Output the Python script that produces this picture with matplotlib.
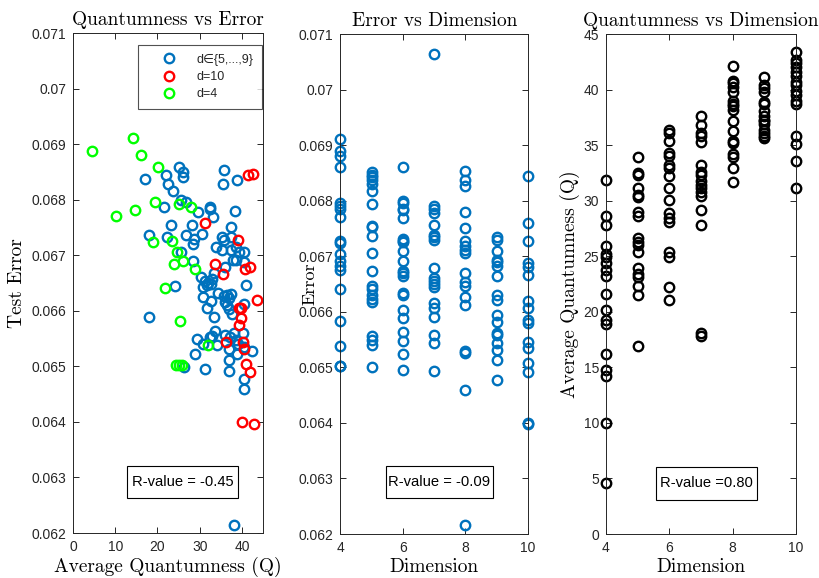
import matplotlib
matplotlib.use("Agg")
import matplotlib.pyplot as plt
from matplotlib.lines import Line2D
from matplotlib.patches import Rectangle

plt.rcParams['font.family'] = ['Liberation Sans', 'DejaVu Sans']

# ---------------- data ----------------
# Left panel: (Average Quantumness, Test Error) pairs
blue_q = [25.1, 26.0, 26.0, 22.0, 17.0, 22.6, 23.7, 35.7, 35.5, 38.9,
          25.6, 26.7, 21.5, 29.6, 32.4, 32.5, 33.2, 38.4, 23.3, 28.1,
          30.6, 37.4, 18.1, 22.3, 26.8, 28.6, 28.5, 35.3, 35.8, 37.4,
          33.8, 35.4, 37.4, 38.7, 39.2, 40.4, 25.5, 28.4, 38.0, 38.7,
          36.0, 40.6, 33.4, 30.2, 31.2, 31.9, 32.9, 30.7, 31.7, 32.6,
          24.1, 40.9, 34.3, 35.7, 36.4, 36.9, 36.0, 36.4, 36.9, 37.4,
          37.6, 30.8, 32.6, 31.7, 40.4, 33.3, 18.1, 33.6, 33.0, 32.4,
          29.3, 30.9, 34.2, 36.0, 37.2, 38.2, 38.7, 40.2, 39.0, 40.6,
          37.0, 37.0, 38.8, 42.3, 29.0, 26.4, 31.3, 37.0, 40.6, 40.6, 38.2]
blue_err = [0.06859, 0.06849, 0.06841, 0.06844, 0.06838, 0.06829, 0.06816, 0.06853, 0.06828, 0.06835,
            0.06799, 0.06796, 0.06786, 0.06778, 0.06787, 0.06784, 0.06768, 0.06779, 0.06754, 0.06754,
            0.06739, 0.06751, 0.06736, 0.06732, 0.06736, 0.06730, 0.06721, 0.06732, 0.06727, 0.06732,
            0.06715, 0.06709, 0.06709, 0.06714, 0.06705, 0.06705, 0.06705, 0.06690, 0.06691, 0.06691,
            0.06678, 0.06687, 0.06668, 0.06661, 0.06654, 0.06650, 0.06657, 0.06643, 0.06646, 0.06648,
            0.06645, 0.06646, 0.06632, 0.06627, 0.06628, 0.06623, 0.06616, 0.06610, 0.06603, 0.06630,
            0.06594, 0.06624, 0.06618, 0.06605, 0.06612, 0.06588, 0.06589, 0.06564, 0.06555, 0.06553,
            0.06549, 0.06540, 0.06538, 0.06556, 0.06552, 0.06560, 0.06547, 0.06560, 0.06540, 0.06535,
            0.06532, 0.06511, 0.06523, 0.06528, 0.06522, 0.06499, 0.06496, 0.06492, 0.06477, 0.06459, 0.06215]

red_q = [41.4, 42.6, 31.3, 39.0, 33.7, 35.5, 40.7, 42.0, 43.6, 39.4,
         39.9, 39.8, 39.4, 36.2, 40.2, 40.6, 41.0, 42.0, 40.0, 42.8]
red_err = [0.06844, 0.06846, 0.06758, 0.06727, 0.06684, 0.06666, 0.06675, 0.06678, 0.06619, 0.06605,
           0.06605, 0.06587, 0.06574, 0.06543, 0.06544, 0.06531, 0.06504, 0.06490, 0.06399, 0.06396]

green_q = [4.5, 14.3, 16.2, 20.1, 19.4, 14.8, 10.1, 25.1, 28.0, 18.9,
           23.5, 24.7, 23.9, 26.1, 28.8, 21.9, 25.3, 32.0, 24.3, 25.0, 25.7]
green_err = [0.06888, 0.06911, 0.06881, 0.06859, 0.06796, 0.06782, 0.06770, 0.06793, 0.06787, 0.06723,
             0.06726, 0.06705, 0.06684, 0.06690, 0.06676, 0.06641, 0.06581, 0.06538, 0.06502, 0.06502, 0.06502]

# Middle panel: error per dimension
dimensions = [4, 5, 6, 7, 8, 9, 10]
err_d4 = [0.06911, 0.06890, 0.06881, 0.06860, 0.06796, 0.06791, 0.06785, 0.06770, 0.06727, 0.06724,
          0.06704, 0.06691, 0.06683, 0.06676, 0.06641, 0.06583, 0.06538, 0.06502, 0.06502]
err_d5 = [0.06851, 0.06847, 0.06842, 0.06838, 0.06830, 0.06817, 0.06794, 0.06755, 0.06752, 0.06737,
          0.06706, 0.06674, 0.06646, 0.06641, 0.06630, 0.06623, 0.06618, 0.06556, 0.06550, 0.06541, 0.06501]
err_d6 = [0.06860, 0.06799, 0.06796, 0.06785, 0.06784, 0.06769, 0.06731, 0.06728, 0.06725, 0.06710,
          0.06691, 0.06673, 0.06670, 0.06664, 0.06634, 0.06630, 0.06603, 0.06589, 0.06564, 0.06547,
          0.06524, 0.06496]
err_d7 = [0.07064, 0.06790, 0.06785, 0.06778, 0.06757, 0.06739, 0.06734, 0.06730, 0.06679, 0.06661,
          0.06656, 0.06650, 0.06644, 0.06616, 0.06606, 0.06591, 0.06558, 0.06543, 0.06494]
err_d8 = [0.06854, 0.06838, 0.06827, 0.06779, 0.06751, 0.06727, 0.06718, 0.06712, 0.06706, 0.06670,
          0.06653, 0.06647, 0.06626, 0.06612, 0.06530, 0.06525, 0.06460, 0.06216]
err_d9 = [0.06734, 0.06730, 0.06710, 0.06694, 0.06689, 0.06683, 0.06664, 0.06631, 0.06621, 0.06594,
          0.06582, 0.06561, 0.06558, 0.06543, 0.06532, 0.06513, 0.06478]
err_d10 = [0.06845, 0.06760, 0.06727, 0.06688, 0.06680, 0.06667, 0.06620, 0.06606, 0.06586, 0.06580,
           0.06546, 0.06534, 0.06507, 0.06492, 0.06400, 0.06398]
err_by_dim = [err_d4, err_d5, err_d6, err_d7, err_d8, err_d9, err_d10]

# Right panel: average quantumness per dimension
q_d4 = [31.9, 28.6, 27.8, 25.9, 25.2, 24.9, 24.4, 23.8, 23.2, 21.6, 20.2, 19.3, 18.9,
        16.2, 14.8, 14.2, 10.0, 4.6]
q_d5 = [33.9, 32.5, 32.3, 31.1, 30.5, 30.3, 29.0, 28.6, 26.6, 26.3, 26.0, 25.4, 23.9,
        23.4, 23.1, 22.3, 21.5, 16.9]
q_d6 = [36.4, 36.1, 35.4, 34.3, 34.0, 33.2, 32.9, 32.2, 31.1, 30.1, 28.9, 28.4, 28.1,
        25.4, 24.9, 22.2, 21.1]
q_d7 = [37.6, 36.8, 36.1, 35.8, 35.3, 33.2, 32.6, 32.3, 31.8, 31.4, 31.1, 30.8, 30.4,
        29.2, 27.8, 18.1, 17.8]
q_d8 = [42.1, 40.8, 40.6, 40.2, 39.8, 39.0, 38.7, 38.5, 38.2, 37.2, 36.3, 35.4, 35.2,
        34.2, 33.9, 32.9, 31.7]
q_d9 = [41.1, 40.4, 40.1, 39.8, 38.9, 38.7, 38.1, 37.6, 37.3, 37.2, 36.9, 36.4, 36.1,
        35.8, 35.6]
q_d10 = [43.4, 42.7, 42.4, 42.0, 41.6, 41.2, 40.7, 40.4, 39.9, 39.5, 39.0, 38.7, 35.8,
         35.1, 33.6, 31.1]
q_by_dim = [q_d4, q_d5, q_d6, q_d7, q_d8, q_d9, q_d10]

err_ticks = [0.062, 0.063, 0.064, 0.065, 0.066, 0.067, 0.068, 0.069, 0.070, 0.071]
err_tick_labels = ['0.062', '0.063', '0.064', '0.065', '0.066', '0.067', '0.068', '0.069', '0.07', '0.071']
q_ticks_x = [0, 10, 20, 30, 40]
dim_ticks = [4, 6, 8, 10]
q_ticks_y = [0, 5, 10, 15, 20, 25, 30, 35, 40, 45]

legend_labels = ['d\u2208{5,...,9}', 'd=10', 'd=4']
r_texts = ['R-value = -0.45', 'R-value = -0.09', 'R-value =0.80']

# ---------------- style ----------------
BLUE = '#0072BD'
RED = '#FF0000'
GREEN = '#00FF00'
AXC = '#262626'
SERIF = 'cmr10'
mk = dict(linestyle='none', marker='o', markerfacecolor='none', markersize=6.8, markeredgewidth=1.7)

W, H = 820, 578
fig = plt.figure(figsize=(W / 100, H / 100), dpi=100)


def px_axes(x0, x1, y0, y1):
    return fig.add_axes([x0 / W, 1 - y1 / H, (x1 - x0) / W, (y1 - y0) / H])


def style(ax):
    for s in ax.spines.values():
        s.set_color(AXC)
        s.set_linewidth(0.7)
    ax.tick_params(direction='in', top=True, right=True, length=4.5, width=0.7,
                   colors=AXC, labelsize=10, pad=5)


def rbox(ax, x0, x1, y0, y1, txt):
    ax.add_patch(Rectangle((x0, y0), x1 - x0, y1 - y0, transform=ax.transAxes,
                           facecolor='white', edgecolor='black', linewidth=0.8, zorder=5))
    ax.text((x0 + x1) / 2, (y0 + y1) / 2, txt, transform=ax.transAxes, ha='center',
            va='center', fontsize=10.6, color='black', zorder=6)


ax1 = px_axes(73, 263, 33, 533)
ax2 = px_axes(340.5, 528, 34, 534)
ax3 = px_axes(606, 796, 34, 534)

# Left
ax1.plot(blue_q, blue_err, color=BLUE, markeredgecolor=BLUE, **mk)
ax1.plot(red_q, red_err, color=RED, markeredgecolor=RED, **mk)
ax1.plot(green_q, green_err, color=GREEN, markeredgecolor=GREEN, **mk)
ax1.set_xlim(0, 45)
ax1.set_ylim(0.062, 0.071)
ax1.set_xticks(q_ticks_x)
ax1.set_yticks(err_ticks)
ax1.set_yticklabels(err_tick_labels)
style(ax1)
ax1.set_title('Quantumness vs Error', fontfamily=SERIF, fontsize=14, pad=6)
ax1.set_xlabel('Average Quantumness (Q)', fontfamily=SERIF, fontsize=14, labelpad=2)
ax1.set_ylabel('Test Error', fontfamily=SERIF, fontsize=14, va='center')
ax1.yaxis.set_label_coords(-0.295, 0.5)
handles = [Line2D([], [], color=c, markeredgecolor=c, **mk) for c in (BLUE, RED, GREEN)]
leg = ax1.legend(handles, legend_labels, loc='upper right', bbox_to_anchor=(0.995, 0.976),
                 fontsize=9, frameon=True, fancybox=False, edgecolor=AXC, borderpad=0.7,
                 handletextpad=0.4, handlelength=3.6, labelspacing=0.42, borderaxespad=0.0)
leg.get_frame().set_linewidth(0.8)
for t in leg.get_texts():
    t.set_color(AXC)
rbox(ax1, 0.286, 0.867, 0.071, 0.134, r_texts[0])

# Middle
for d, errs in zip(dimensions, err_by_dim):
    ax2.plot([d] * len(errs), errs, color=BLUE, markeredgecolor=BLUE, clip_on=False, **mk)
ax2.set_xlim(4, 10)
ax2.set_ylim(0.062, 0.071)
ax2.set_xticks(dim_ticks)
ax2.set_yticks(err_ticks)
ax2.set_yticklabels(err_tick_labels)
style(ax2)
ax2.set_title('Error vs Dimension', fontfamily=SERIF, fontsize=14, pad=6)
ax2.set_xlabel('Dimension', fontfamily=SERIF, fontsize=14, labelpad=2)
ax2.set_ylabel('Error', fontfamily=SERIF, fontsize=13, va='center')
ax2.yaxis.set_label_coords(-0.163, 0.5)
rbox(ax2, 0.241, 0.815, 0.072, 0.136, r_texts[1])

# Right
for d, qs in zip(dimensions, q_by_dim):
    ax3.plot([d] * len(qs), qs, color='black', markeredgecolor='black', clip_on=False, **mk)
ax3.set_xlim(4, 10)
ax3.set_ylim(0, 45)
ax3.set_xticks(dim_ticks)
ax3.set_yticks(q_ticks_y)
style(ax3)
ax3.set_title('Quantumness vs Dimension', fontfamily=SERIF, fontsize=14, pad=6)
ax3.set_xlabel('Dimension', fontfamily=SERIF, fontsize=14, labelpad=2)
ax3.set_ylabel('Average Quantumness (Q)', fontfamily=SERIF, fontsize=14, va='center')
ax3.yaxis.set_label_coords(-0.19, 0.5)
rbox(ax3, 0.262, 0.796, 0.069, 0.135, r_texts[2])

fig.savefig('out.png', dpi=100, facecolor='white')
